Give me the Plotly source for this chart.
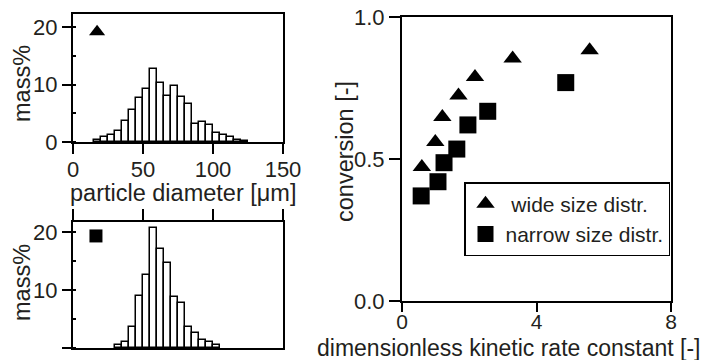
import plotly.graph_objects as go

# ---- data ----
wide_bin_centers = [17.5, 22.5, 27.5, 32.5, 37.5, 42.5, 47.5, 52.5, 57.5, 62.5, 67.5,
                    72.5, 77.5, 82.5, 87.5, 92.5, 97.5, 102.5, 107.5, 112.5, 117.5, 122.5]
wide_mass = [0.4, 0.9, 1.3, 1.9, 3.7, 5.5, 7.7, 9.2, 12.8, 10.2, 8.0,
             9.8, 7.9, 6.6, 3.2, 3.5, 2.9, 1.5, 1.2, 0.8, 0.35, 0.15]

narrow_bin_centers = [32.5, 37.5, 42.5, 47.5, 52.5, 57.5, 62.5, 67.5,
                      72.5, 77.5, 82.5, 87.5, 92.5, 97.5, 102.5]
narrow_mass = [0.6, 1.1, 3.7, 8.9, 12.5, 20.6, 17.1, 14.7,
               8.7, 7.7, 3.7, 2.5, 1.4, 1.0, 0.5]

wide_k = [0.59, 0.99, 1.20, 1.68, 2.17, 3.29, 5.58]
wide_conv = [0.472, 0.56, 0.648, 0.724, 0.789, 0.854, 0.883]

narrow_k = [0.57, 1.07, 1.25, 1.63, 1.96, 2.55, 4.87]
narrow_conv = [0.37, 0.42, 0.487, 0.535, 0.62, 0.668, 0.769]

wide_symbol_pos = [17.2, 19.2]
narrow_symbol_pos = [16.4, 19.3]

top_x_ticks = [0, 50, 100, 150]
hist_y_ticks = [0, 10, 20]
conv_x_ticks = [0, 4, 8]
conv_y_ticks = [0.0, 0.5, 1.0]
conv_y_labels = ["0.0", "0.5", "1.0"]

W, H = 711, 360
FONT = "Liberation Sans, Arial, sans-serif"
TXT = "#231f20"
TITLE_SIZE = 23.5

def px_x(a, b):
    return [a / W, b / W]

def px_y(top, bottom):
    return [1 - bottom / H, 1 - top / H]

fig = go.Figure()

bar_style = dict(marker=dict(color="white", line=dict(color="black", width=1.5)),
                 width=5, showlegend=False, hoverinfo="skip")

fig.add_trace(go.Bar(x=wide_bin_centers, y=wide_mass, xaxis="x", yaxis="y", **bar_style))
fig.add_trace(go.Bar(x=narrow_bin_centers, y=narrow_mass, xaxis="x2", yaxis="y2", **bar_style))

fig.add_trace(go.Scatter(x=[wide_symbol_pos[0]], y=[wide_symbol_pos[1]], mode="markers",
                         marker=dict(symbol="triangle-up", size=14, color="black"),
                         xaxis="x", yaxis="y", showlegend=False, hoverinfo="skip"))
fig.add_trace(go.Scatter(x=[narrow_symbol_pos[0]], y=[narrow_symbol_pos[1]], mode="markers",
                         marker=dict(symbol="square", size=13, color="black"),
                         xaxis="x2", yaxis="y2", showlegend=False, hoverinfo="skip"))

fig.add_trace(go.Scatter(x=wide_k, y=wide_conv, mode="markers", name="\u00a0wide size distr.",
                         marker=dict(symbol="triangle-up", size=16, color="black"),
                         xaxis="x3", yaxis="y3"))
fig.add_trace(go.Scatter(x=narrow_k, y=narrow_conv, mode="markers", name="narrow size distr.",
                         marker=dict(symbol="square", size=17, color="black"),
                         xaxis="x3", yaxis="y3"))

tickfont = dict(family=FONT, size=22, color=TXT)
common = dict(showline=True, linecolor="black", linewidth=2, mirror=True,
              showgrid=False, zeroline=False, ticks="outside", tickwidth=2,
              tickcolor="black", tickfont=tickfont, automargin=False)

layout = dict(
    width=W, height=H, margin=dict(l=0, r=0, t=0, b=0),
    paper_bgcolor="white", plot_bgcolor="white",
    barmode="overlay", bargap=0,
    font=dict(family=FONT, color=TXT),
    xaxis=dict(domain=px_x(73, 283), range=[0, 150], tickvals=top_x_ticks, ticklen=10,
               ticklabelstandoff=-3, anchor="y", **common),
    yaxis=dict(domain=px_y(14, 142), range=[0, 22.3], tickvals=hist_y_ticks, ticklen=9,
               minor=dict(ticks="inside", dtick=5, ticklen=3, tickcolor="black"),
               anchor="x", **common),
    xaxis2=dict(domain=px_x(73, 283), range=[0, 150], tickvals=top_x_ticks, ticklen=11,
                side="top", showticklabels=False, anchor="y2", **common),
    yaxis2=dict(domain=px_y(222, 348), range=[0, 21.7], tickvals=hist_y_ticks, ticklen=9,
                minor=dict(ticks="inside", dtick=5, ticklen=3, tickcolor="black"),
                anchor="x2", **common),
    xaxis3=dict(domain=px_x(402, 671), range=[0, 8], tickvals=conv_x_ticks, ticklen=9,
                ticklabelstandoff=-8, anchor="y3", **common),
    yaxis3=dict(domain=px_y(17, 301), range=[0, 1], tickvals=conv_y_ticks, ticktext=conv_y_labels,
                ticklen=11, anchor="x3", **common),
    legend=dict(x=464 / W, y=1 - 182 / H, xanchor="left", yanchor="top",
                bordercolor="black", borderwidth=1.5, bgcolor="white",
                font=dict(family=FONT, size=21, color=TXT), itemwidth=30),
    showlegend=True,
)
fig.update_layout(**layout)
fig.update_xaxes(tickfont=dict(size=21), selector=dict(anchor="y3"))

def title(text, cx, cy, angle=0, size=TITLE_SIZE):
    fig.add_annotation(text=text, x=cx / W, y=1 - cy / H, xref="paper", yref="paper",
                       xanchor="center", yanchor="middle", showarrow=False, textangle=angle,
                       font=dict(family=FONT, size=size, color=TXT))

title("particle diameter [\u03bcm]", 183, 192.5)
title("mass%", 22, 84, -90)
title("mass%", 22, 283, -90)
title("conversion [-]", 345, 152, -90)
title("dimensionless kinetic rate constant [-]", 509, 348, size=23)

fig.write_html("out.html")
